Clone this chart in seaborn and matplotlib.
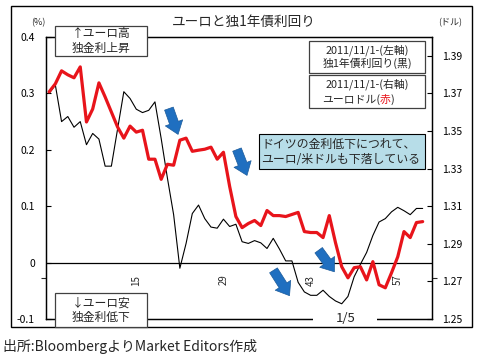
import matplotlib
matplotlib.use("Agg")
import matplotlib.pyplot as plt
import seaborn as sns
import pandas as pd
import numpy as np
from matplotlib.patches import Rectangle, FancyArrowPatch, ArrowStyle

# ---- data ----
day_index = list(range(1, 62))
bund_1y = [0.300, 0.315, 0.250, 0.259, 0.240, 0.250, 0.209, 0.229, 0.219, 0.171,
           0.171, 0.237, 0.303, 0.291, 0.272, 0.266, 0.270, 0.285, 0.220, 0.150,
           0.085, -0.010, 0.034, 0.087, 0.102, 0.078, 0.063, 0.061, 0.077, 0.064,
           0.068, 0.037, 0.034, 0.039, 0.035, 0.025, 0.043, 0.024, 0.003, 0.003,
           -0.035, -0.052, -0.058, -0.058, -0.049, -0.060, -0.068, -0.073, -0.060, -0.025,
           -0.003, 0.018, 0.048, 0.072, 0.078, 0.090, 0.098, 0.092, 0.085, 0.096,
           0.096]
eurusd = [1.3708, 1.3751, 1.3820, 1.3799, 1.3783, 1.3841, 1.3548, 1.3617, 1.3756, 1.3681,
          1.3601, 1.3521, 1.3462, 1.3526, 1.3494, 1.3504, 1.3350, 1.3350, 1.3243, 1.3323,
          1.3318, 1.3451, 1.3462, 1.3392, 1.3398, 1.3403, 1.3414, 1.3350, 1.3387, 1.3205,
          1.3045, 1.2986, 1.3008, 1.3024, 1.2997, 1.3077, 1.3050, 1.3050, 1.3045, 1.3056,
          1.3067, 1.2965, 1.2960, 1.2960, 1.2933, 1.3050, 1.2906, 1.2778, 1.2719, 1.2773,
          1.2778, 1.2708, 1.2805, 1.2682, 1.2666, 1.2746, 1.2831, 1.2965, 1.2933, 1.3013,
          1.3018]
x_ticks = [15, 29, 43, 57]
x_ticklabels = ["15", "29", "43", "57"]
left_ticks = [-0.1, 0, 0.1, 0.2, 0.3, 0.4]
left_ticklabels = ["-0.1", "0", "0.1", "0.2", "0.3", "0.4"]
right_ticks = [1.25, 1.27, 1.29, 1.31, 1.33, 1.35, 1.37, 1.39]
right_ticklabels = ["1.25", "1.27", "1.29", "1.31", "1.33", "1.35", "1.37", "1.39"]

df = pd.DataFrame({"day": day_index, "bund": bund_1y, "eurusd": eurusd})

sns.set_theme(style="white")
plt.rcParams['font.family'] = ['Noto Sans CJK JP', 'DejaVu Sans']
plt.rcParams['axes.unicode_minus'] = False

W, H = 479, 359
fig = plt.figure(figsize=(W / 100, H / 100), dpi=100)
fig.patch.set_facecolor("white")

def fx(px):
    return px / W

def fy(py):
    return 1 - py / H

ax = fig.add_axes([fx(46), fy(319), fx(432) - fx(46), fy(37) - fy(319)])
ax2 = ax.twinx()

sns.lineplot(data=df, x="day", y="bund", ax=ax, color="black", lw=0.8)
sns.lineplot(data=df, x="day", y="eurusd", ax=ax2, color="#e8141b", lw=2.3)

ax.set_xlim(0.5, 62.5)
ax.set_ylim(-0.1, 0.4)
ax2.set_ylim(1.25, 1.40)
ax.set_xlabel("")
ax.set_ylabel("")
ax2.set_ylabel("")

for a in (ax, ax2):
    for s in a.spines.values():
        s.set_color("black")
        s.set_linewidth(0.9)

ax.set_xticks([])
ax.set_yticks(left_ticks)
ax.set_yticklabels(left_ticklabels)
ax.set_yticks([-0.0275], minor=True)
ax.tick_params(axis="y", which="major", direction="in", length=3.5, width=0.8, pad=8,
               labelsize=7.5, colors="black", left=True)
ax.tick_params(axis="y", which="minor", direction="out", length=3.5, width=0.8,
               left=True, labelleft=False)
ax2.set_yticks(right_ticks)
ax2.set_yticklabels(right_ticklabels)
ax2.set_yticks([1.2719], minor=True)
ax2.tick_params(axis="y", which="major", direction="in", length=3.5, width=0.8, pad=7,
                labelsize=7.5, colors="black", right=True)
ax2.tick_params(axis="y", which="minor", direction="out", length=3.5, width=0.8,
                right=True, labelright=False)

ax.axhline(0, color="black", lw=0.9)

for t, lab in zip(x_ticks, x_ticklabels):
    ax.text(t, -0.031, lab, rotation=90, ha="center", va="center", fontsize=7)

# gap in the bottom line with the "1/5" label
fig.add_artist(Rectangle((fx(313), fy(322)), fx(377) - fx(313), fy(316) - fy(322),
                         transform=fig.transFigure, facecolor="white", edgecolor="none",
                         zorder=6))
fig.text(fx(346), fy(318), "1/5", ha="center", va="center", fontsize=9.5, zorder=7)

# titles / units
fig.text(fx(244), fy(22), "ユーロと独1年債利回り", ha="center", va="center", fontsize=9.8)
fig.text(fx(38), fy(23), "(%)", ha="center", va="center", fontsize=6.5)
fig.text(fx(450), fy(23), "(ドル)", ha="center", va="center", fontsize=6.5)
fig.text(fx(3), fy(347), "出所:BloombergよりMarket Editors作成", ha="left", va="center", fontsize=10)

# boxes
def box(x0, y0, x1, y1, fc="white", ec="#404040", lw=0.9):
    r = Rectangle((fx(x0), fy(y1)), fx(x1) - fx(x0), fy(y0) - fy(y1),
                  transform=fig.transFigure, facecolor=fc, edgecolor=ec, lw=lw, zorder=10)
    fig.add_artist(r)

box(55, 26, 147, 56)
fig.text(fx(101), fy(41), "↑ユーロ高\n独金利上昇", ha="center", va="center",
         fontsize=8.5, linespacing=1.15, zorder=11)
box(55, 293, 147, 327)
fig.text(fx(101), fy(310), "↓ユーロ安\n独金利低下", ha="center", va="center",
         fontsize=8.5, linespacing=1.15, zorder=11)

box(309, 41, 425, 73)
fig.text(fx(367), fy(57), "2011/11/1-(左軸)\n独1年債利回り(黒)", ha="center", va="center",
         fontsize=7.8, linespacing=1.15, zorder=11)
box(309, 75, 425, 108)
fig.text(fx(367), fy(84), "2011/11/1-(右軸)", ha="center", va="center",
         fontsize=7.8, zorder=11)
t1 = fig.text(fx(380), fy(100), "ユーロドル(", ha="right", va="center",
              fontsize=7.8, zorder=11)
t2 = fig.text(fx(380), fy(100), "赤", ha="left", va="center",
              fontsize=7.8, color="#e8141b", zorder=12)
fig.canvas.draw()
bb = t2.get_window_extent()
fig.text(bb.x1 / W, fy(100), ")", ha="left", va="center", fontsize=7.8, zorder=11)

box(259, 134, 425, 169, fc="#b7dde8", ec="black", lw=0.8)
fig.text(fx(261), fy(151.5), "ドイツの金利低下につれて、\nユーロ/米ドルも下落している",
         ha="left", va="center", fontsize=8.6, linespacing=1.2, zorder=11)

# arrows
arrows = [((168, 106), (179, 137)), ((236, 147), (248, 178)),
          ((272, 268), (291, 298)), ((317, 248), (336, 274))]
style = ArrowStyle.Simple(head_length=0.8, head_width=1.2, tail_width=0.6)
for (x0, y0), (x1, y1) in arrows:
    a = FancyArrowPatch((fx(x0), fy(y0)), (fx(x1), fy(y1)), transform=fig.transFigure,
                        arrowstyle=style, mutation_scale=11, facecolor="#1f6fc0",
                        edgecolor="#1a5a9a", lw=0.5, zorder=9)
    fig.add_artist(a)

# outer frame
fig.add_artist(Rectangle((fx(11), fy(327)), fx(472) - fx(11), fy(6) - fy(327),
                         transform=fig.transFigure, facecolor="none", edgecolor="black",
                         lw=1.0, zorder=8))

fig.savefig("out.png", dpi=100)
